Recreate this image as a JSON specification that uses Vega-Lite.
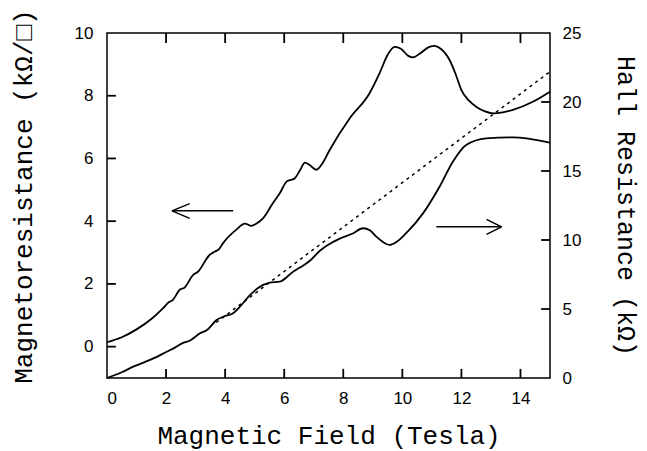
{
  "$schema": "https://vega.github.io/schema/vega-lite/v6.json",
  "width": 443,
  "height": 345,
  "autosize": "none",
  "padding": {"left": 107, "top": 33, "right": 97, "bottom": 73},
  "background": "white",
  "config": {
    "view": {"stroke": "black", "strokeWidth": 1.5},
    "axis": {
      "domain": false,
      "grid": false,
      "ticks": false,
      "labelColor": "black",
      "labelFont": "Liberation Sans",
      "labelFontSize": 17,
      "titleColor": "black",
      "titleFont": "Liberation Mono",
      "titleFontSize": 26,
      "titleFontWeight": "normal"
    }
  },
  "datasets": {
    "mr": [
      {"B": 0, "R": 0.14}, {"B": 0.5, "R": 0.3}, {"B": 1.0, "R": 0.55}, {"B": 1.5, "R": 0.88},
      {"B": 1.9, "R": 1.23}, {"B": 2.1, "R": 1.42}, {"B": 2.22, "R": 1.48}, {"B": 2.47, "R": 1.82},
      {"B": 2.62, "R": 1.88}, {"B": 2.92, "R": 2.29}, {"B": 3.07, "R": 2.38}, {"B": 3.48, "R": 2.93},
      {"B": 3.65, "R": 3.03}, {"B": 3.8, "R": 3.12}, {"B": 3.93, "R": 3.3}, {"B": 4.38, "R": 3.73},
      {"B": 4.67, "R": 3.92}, {"B": 4.89, "R": 3.85}, {"B": 5.05, "R": 3.92}, {"B": 5.29, "R": 4.1},
      {"B": 5.62, "R": 4.58}, {"B": 5.85, "R": 4.89}, {"B": 6.08, "R": 5.26}, {"B": 6.36, "R": 5.37},
      {"B": 6.55, "R": 5.65}, {"B": 6.7, "R": 5.87}, {"B": 6.85, "R": 5.8}, {"B": 7.09, "R": 5.64},
      {"B": 7.3, "R": 5.85}, {"B": 7.54, "R": 6.27}, {"B": 8.22, "R": 7.28}, {"B": 8.89, "R": 8.08},
      {"B": 9.23, "R": 8.72}, {"B": 9.5, "R": 9.3}, {"B": 9.74, "R": 9.56}, {"B": 9.95, "R": 9.5},
      {"B": 10.2, "R": 9.27}, {"B": 10.36, "R": 9.22}, {"B": 10.6, "R": 9.35}, {"B": 10.9, "R": 9.55},
      {"B": 11.09, "R": 9.59}, {"B": 11.3, "R": 9.5}, {"B": 11.6, "R": 9.14}, {"B": 11.8, "R": 8.7},
      {"B": 12.0, "R": 8.18}, {"B": 12.25, "R": 7.85}, {"B": 12.5, "R": 7.65}, {"B": 12.8, "R": 7.5},
      {"B": 13.06, "R": 7.44}, {"B": 13.4, "R": 7.47}, {"B": 13.74, "R": 7.55}, {"B": 14.42, "R": 7.81},
      {"B": 15, "R": 8.13}
    ],
    "hall": [
      {"B": 0, "H": 0}, {"B": 0.5, "H": 0.42}, {"B": 0.89, "H": 0.82}, {"B": 1.5, "H": 1.35},
      {"B": 2.02, "H": 1.9}, {"B": 2.3, "H": 2.2}, {"B": 2.58, "H": 2.55}, {"B": 2.8, "H": 2.7},
      {"B": 3.15, "H": 3.24}, {"B": 3.4, "H": 3.5}, {"B": 3.71, "H": 4.2}, {"B": 3.95, "H": 4.45},
      {"B": 4.27, "H": 4.69}, {"B": 4.5, "H": 5.17}, {"B": 4.84, "H": 6.0}, {"B": 5.1, "H": 6.5},
      {"B": 5.51, "H": 6.91}, {"B": 5.85, "H": 6.98}, {"B": 6.3, "H": 7.7}, {"B": 6.53, "H": 8.0},
      {"B": 6.87, "H": 8.5}, {"B": 7.2, "H": 9.2}, {"B": 7.45, "H": 9.6}, {"B": 7.88, "H": 10.1},
      {"B": 8.3, "H": 10.45}, {"B": 8.67, "H": 10.85}, {"B": 8.9, "H": 10.7}, {"B": 9.12, "H": 10.24},
      {"B": 9.57, "H": 9.64}, {"B": 9.8, "H": 9.85}, {"B": 10.13, "H": 10.49}, {"B": 10.7, "H": 11.93},
      {"B": 11.26, "H": 13.86}, {"B": 11.71, "H": 15.67}, {"B": 12.16, "H": 16.88}, {"B": 12.84, "H": 17.37},
      {"B": 13.74, "H": 17.44}, {"B": 15, "H": 17.05}
    ],
    "classical": [
      {"B": 3.7, "H": 4.02}, {"B": 15, "H": 22.2}
    ],
    "arrows": [
      {"seg": "l0", "B": 2.2, "R": 4.33}, {"seg": "l0", "B": 4.27, "R": 4.33},
      {"seg": "l1", "B": 2.2, "R": 4.33}, {"seg": "l1", "B": 2.8, "R": 4.56},
      {"seg": "l2", "B": 2.2, "R": 4.33}, {"seg": "l2", "B": 2.8, "R": 4.09},
      {"seg": "r0", "B": 11.15, "R": 3.82}, {"seg": "r0", "B": 13.36, "R": 3.82},
      {"seg": "r1", "B": 12.85, "R": 4.06}, {"seg": "r1", "B": 13.36, "R": 3.82},
      {"seg": "r2", "B": 12.85, "R": 3.58}, {"seg": "r2", "B": 13.36, "R": 3.82}
    ],
    "xticks": [{"B": 2}, {"B": 4}, {"B": 6}, {"B": 8}, {"B": 10}, {"B": 12}, {"B": 14}],
    "lticks": [{"R": 0}, {"R": 2}, {"R": 4}, {"R": 6}, {"R": 8}],
    "rticks": [{"H": 5}, {"H": 10}, {"H": 15}, {"H": 20}]
  },
  "layer": [
    {
      "layer": [
        {
          "data": {"name": "mr"},
          "mark": {"type": "line", "color": "black", "strokeWidth": 1.8, "interpolate": "monotone"},
          "encoding": {
            "x": {"field": "B", "type": "quantitative", "scale": {"domain": [0, 15], "nice": false},
              "axis": {"orient": "bottom", "values": [0, 2, 4, 6, 8, 10, 12, 14], "labelPadding": 12,
                "title": "Magnetic Field (Tesla)", "titlePadding": 16}},
            "y": {"field": "R", "type": "quantitative", "scale": {"domain": [-1, 10], "nice": false},
              "axis": {"orient": "left", "values": [0, 2, 4, 6, 8, 10], "labelPadding": 14,
                "title": "Magnetoresistance (kΩ/□)", "titlePadding": 38, "titleY": 163}}
          }
        },
        {
          "data": {"name": "arrows"},
          "mark": {"type": "line", "color": "black", "strokeWidth": 1.5},
          "encoding": {
            "x": {"field": "B", "type": "quantitative"},
            "y": {"field": "R", "type": "quantitative"},
            "detail": {"field": "seg"}
          }
        },
        {
          "data": {"name": "xticks"},
          "mark": {"type": "rule", "color": "black", "strokeWidth": 1.8},
          "encoding": {
            "x": {"field": "B", "type": "quantitative"},
            "y": {"datum": -1},
            "y2": {"datum": -0.71}
          }
        },
        {
          "data": {"name": "xticks"},
          "mark": {"type": "rule", "color": "black", "strokeWidth": 1.8},
          "encoding": {
            "x": {"field": "B", "type": "quantitative"},
            "y": {"datum": 10},
            "y2": {"datum": 9.68}
          }
        },
        {
          "data": {"name": "lticks"},
          "mark": {"type": "rule", "color": "black", "strokeWidth": 1.8},
          "encoding": {
            "y": {"field": "R", "type": "quantitative"},
            "x": {"datum": 0},
            "x2": {"datum": 0.3}
          }
        }
      ]
    },
    {
      "layer": [
        {
          "data": {"name": "hall"},
          "mark": {"type": "line", "color": "black", "strokeWidth": 1.8, "interpolate": "monotone"},
          "encoding": {
            "x": {"field": "B", "type": "quantitative",
              "axis": {"orient": "top", "labels": false, "title": null}},
            "y": {"field": "H", "type": "quantitative", "scale": {"domain": [0, 25], "nice": false},
              "axis": {"orient": "right", "values": [0, 5, 10, 15, 20, 25], "labelPadding": 12,
                "title": "Hall Resistance (kΩ)", "titleFontSize": 25, "titlePadding": 32}}
          }
        },
        {
          "data": {"name": "classical"},
          "mark": {"type": "line", "color": "black", "strokeWidth": 1.5, "strokeDash": [3, 4]},
          "encoding": {
            "x": {"field": "B", "type": "quantitative"},
            "y": {"field": "H", "type": "quantitative"}
          }
        },
        {
          "data": {"name": "rticks"},
          "mark": {"type": "rule", "color": "black", "strokeWidth": 1.8},
          "encoding": {
            "y": {"field": "H", "type": "quantitative"},
            "x": {"datum": 14.7},
            "x2": {"datum": 15}
          }
        }
      ]
    }
  ],
  "resolve": {"scale": {"y": "independent"}, "axis": {"x": "independent"}}
}
